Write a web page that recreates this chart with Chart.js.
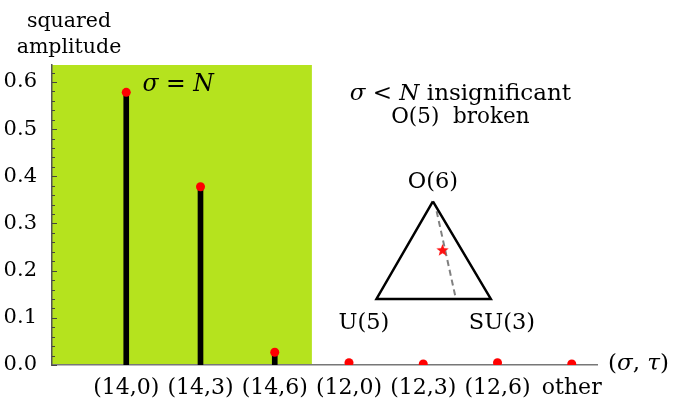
<!DOCTYPE html>
<html>
<head>
<meta charset="utf-8">
<script src="https://cdn.jsdelivr.net/npm/chart.js@4.4.0/dist/chart.umd.min.js"></script>
<style>
  html, body { margin: 0; padding: 0; background: #fff; }
</style>
</head>
<body>
<canvas id="grafico" width="683" height="398"></canvas>
<script>
// datos del grafico
const categorias = ['(14,0)', '(14,3)', '(14,6)', '(12,0)', '(12,3)', '(12,6)', 'other'];
const amplitudes = [0.578, 0.378, 0.027, 0.005, 0.002, 0.005, 0.002];
const limiteVerde = 3.5;      // zona sigma = N (en unidades del eje x)
const ejeYMax = 0.636;
const ejeXMax = 7.34;

// triangulo del recuadro (en unidades de los ejes)
const trianguloX = [5.13, 4.37, 5.91, 5.13];
const trianguloY = [0.347, 0.140, 0.140, 0.347];
const lineaRotaX = [5.18, 5.44];
const lineaRotaY = [0.326, 0.140];
const estrellaX = [5.26];
const estrellaY = [0.243];

const FUENTE = '"DejaVu Serif", serif';

function puntos(xs, ys) {
    return xs.map((x, i) => ({ x: x, y: ys[i] }));
}

// estrella roja rellena para usar como pointStyle
function hacerEstrella(r) {
    const c = document.createElement('canvas');
    c.width = c.height = Math.ceil(2 * r + 2);
    const g = c.getContext('2d');
    const cx = c.width / 2, cy = c.height / 2;
    g.beginPath();
    for (let i = 0; i < 10; i++) {
        const rad = i % 2 === 0 ? r : r * 0.42;
        const ang = -Math.PI / 2 + i * Math.PI / 5;
        const px = cx + rad * Math.cos(ang);
        const py = cy + rad * Math.sin(ang);
        if (i === 0) g.moveTo(px, py); else g.lineTo(px, py);
    }
    g.closePath();
    g.fillStyle = '#ff1010';
    g.fill();
    return c;
}

// texto con partes en cursiva
function dibujarTexto(ctx, partes, x, y, alinear, tam) {
    let ancho = 0;
    partes.forEach(p => {
        ctx.font = (p.it ? 'italic ' : '') + tam + 'px ' + FUENTE;
        p.w = ctx.measureText(p.t).width;
        ancho += p.w;
    });
    let cx = x;
    if (alinear === 'center') cx = x - ancho / 2;
    ctx.textAlign = 'left';
    ctx.textBaseline = 'alphabetic';
    ctx.fillStyle = '#000';
    partes.forEach(p => {
        ctx.font = (p.it ? 'italic ' : '') + tam + 'px ' + FUENTE;
        ctx.fillText(p.t, cx, y);
        cx += p.w;
    });
}

const fondoVerde = {
    id: 'fondoVerde',
    beforeDraw(chart) {
        const { ctx, scales: { x, y } } = chart;
        ctx.save();
        ctx.fillStyle = '#b5e31e';
        const x0 = x.getPixelForValue(0);
        const x1 = x.getPixelForValue(limiteVerde);
        ctx.fillRect(x0, chart.chartArea.top, x1 - x0, y.getPixelForValue(0) - chart.chartArea.top);
        ctx.restore();
    }
};

const textos = {
    id: 'textos',
    afterDraw(chart) {
        const { ctx, scales: { x, y } } = chart;
        ctx.save();
        // marcas menores del eje y (hacia dentro)
        ctx.strokeStyle = '#444';
        ctx.lineWidth = 1;
        const izq = x.getPixelForValue(0);
        for (let k = 0; k <= 31; k++) {
            const py = Math.round(y.getPixelForValue(k * 0.02)) + 0.5;
            const largo = k % 5 === 0 ? 5 : 3;
            ctx.beginPath();
            ctx.moveTo(izq, py);
            ctx.lineTo(izq + largo, py);
            ctx.stroke();
        }

        // titulo del eje y
        ctx.font = '20.5px ' + FUENTE;
        ctx.fillStyle = '#000';
        ctx.textAlign = 'center';
        ctx.fillText('squared', 69, 27);
        ctx.fillText('amplitude', 69, 53);

        // titulo del eje x
        dibujarTexto(ctx, [{ t: '(' }, { t: 'σ', it: true }, { t: ', ' }, { t: 'τ', it: true }, { t: ')' }],
            x.getPixelForValue(ejeXMax) + 11, y.getPixelForValue(0) + 5, 'left', 23);

        dibujarTexto(ctx, [{ t: 'σ', it: true }, { t: ' = ' }, { t: 'N', it: true }],
            x.getPixelForValue(1.22), y.getPixelForValue(0.58), 'left', 23.5);

        dibujarTexto(ctx, [{ t: 'σ', it: true }, { t: ' < ' }, { t: 'N', it: true }, { t: ' insignificant' }],
            x.getPixelForValue(5.5), y.getPixelForValue(0.562), 'center', 23);
        dibujarTexto(ctx, [{ t: 'O(5)  broken' }],
            x.getPixelForValue(5.5), y.getPixelForValue(0.513), 'center', 21.5);

        dibujarTexto(ctx, [{ t: 'O(6)' }], x.getPixelForValue(5.13), y.getPixelForValue(0.376), 'center', 22.5);
        dibujarTexto(ctx, [{ t: 'U(5)' }], x.getPixelForValue(4.2), y.getPixelForValue(0.076), 'center', 22.5);
        dibujarTexto(ctx, [{ t: 'SU(3)' }], x.getPixelForValue(6.06), y.getPixelForValue(0.076), 'center', 22.5);
        ctx.restore();
    }
};

const ctx = document.getElementById('grafico').getContext('2d');
const grafico = new Chart(ctx, {
    type: 'bar',
    data: {
        datasets: [{
            type: 'bar',
            data: amplitudes.map((v, i) => ({ x: i + 1, y: v })),
            backgroundColor: '#000',
            barThickness: 5,
            order: 2
        }, {
            type: 'scatter',
            data: amplitudes.map((v, i) => ({ x: i + 1, y: v })),
            pointRadius: 4.5,
            pointBackgroundColor: '#ff0000',
            pointBorderWidth: 0,
            order: 1
        }, {
            type: 'scatter',
            data: puntos(trianguloX, trianguloY),
            showLine: true,
            borderColor: '#000',
            borderWidth: 2.5,
            pointRadius: 0,
            order: 1
        }, {
            type: 'scatter',
            data: puntos(lineaRotaX, lineaRotaY),
            showLine: true,
            borderColor: '#808080',
            borderWidth: 2,
            borderDash: [6, 4],
            pointRadius: 0,
            order: 1
        }, {
            type: 'scatter',
            data: puntos(estrellaX, estrellaY),
            pointStyle: hacerEstrella(6.5),
            pointRadius: 7,
            order: 0
        }]
    },
    options: {
        responsive: false,
        animation: false,
        events: [],
        layout: { padding: { top: 65, right: 86, left: 0, bottom: 0 } },
        plugins: {
            legend: { display: false },
            tooltip: { enabled: false }
        },
        scales: {
            x: {
                type: 'linear',
                min: 0,
                max: ejeXMax,
                offset: false,
                grid: { display: false },
                border: { color: '#777', width: 1.5 },
                afterBuildTicks(scale) {
                    scale.ticks = categorias.map((c, i) => ({ value: i + 1 }));
                },
                afterFit(scale) { scale.height = 33; },
                ticks: {
                    autoSkip: false,
                    maxRotation: 0,
                    padding: 2,
                    color: '#000',
                    font: { family: FUENTE, size: 22 },
                    callback: v => categorias[Math.round(v) - 1] || ''
                }
            },
            y: {
                min: 0,
                max: ejeYMax,
                grid: { display: false },
                border: { color: '#555', width: 1.5 },
                afterFit(scale) { scale.width = 52; },
                ticks: {
                    stepSize: 0.1,
                    includeBounds: false,
                    padding: 7,
                    color: '#000',
                    font: { family: FUENTE, size: 21 },
                    callback: v => v.toFixed(1)
                }
            }
        }
    },
    plugins: [fondoVerde, textos]
});
</script>
</body>
</html>
